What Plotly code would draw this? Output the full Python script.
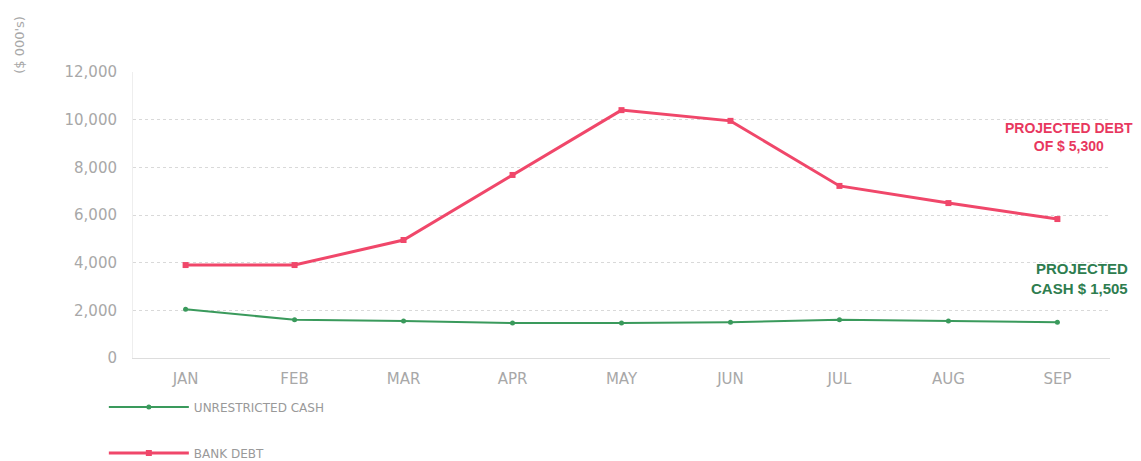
import plotly.graph_objects as go

months = ["JAN", "FEB", "MAR", "APR", "MAY", "JUN", "JUL", "AUG", "SEP"]
bank_debt = [3900, 3900, 4950, 7680, 10400, 9950, 7220, 6500, 5830]
unrestricted_cash = [2050, 1600, 1550, 1470, 1470, 1500, 1600, 1550, 1505]
y_ticks = [0, 2000, 4000, 6000, 8000, 10000, 12000]

DEBT_RED = "#f0476a"
CASH_GREEN = "#3a9a5c"
TICK_GREY = "#a8a8a8"
ANNOT_FONT = "Liberation Sans, Arial, sans-serif"

fig = go.Figure()

fig.add_trace(go.Scatter(
    x=months, y=unrestricted_cash, name="UNRESTRICTED CASH",
    mode="lines+markers", legendgroup="cash",
    line=dict(color=CASH_GREEN, width=2),
    marker=dict(symbol="circle", size=5, color=CASH_GREEN),
))
fig.add_trace(go.Scatter(
    x=months, y=bank_debt, name="BANK DEBT",
    mode="lines+markers", legendgroup="debt",
    line=dict(color=DEBT_RED, width=3),
    marker=dict(symbol="square", size=6, color=DEBT_RED),
))

# callouts on the right
fig.add_annotation(
    text="<b>PROJECTED DEBT<br>OF $ 5,300</b>", xref="paper", yref="y",
    x=0.958, y=9270, xanchor="center", yanchor="middle", showarrow=False,
    align="center", font=dict(color="#e8375e", size=14, family=ANNOT_FONT),
)
fig.add_annotation(
    text="<b>PROJECTED<br>CASH $ 1,505</b>", xref="paper", yref="y",
    x=1.02, y=3350, xanchor="right", yanchor="middle", showarrow=False,
    align="right", font=dict(color="#2e7d4f", size=15, family=ANNOT_FONT),
)
fig.add_annotation(
    text="($ 000's)", xref="paper", yref="paper", x=-0.117, y=1.094,
    textangle=-90, showarrow=False, xanchor="center", yanchor="middle",
    font=dict(color=TICK_GREY, size=13),
)

# the page body adds an 8px offset, so margins are shifted to compensate
fig.update_layout(
    width=1141, height=461,
    margin=dict(l=125, r=39, t=64, b=111, autoexpand=False),
    plot_bgcolor="white", paper_bgcolor="white",
    font=dict(family="DejaVu Sans", color=TICK_GREY, size=12),
    legend=dict(
        orientation="v", xref="container", yref="container",
        x=0.084, y=0.166, xanchor="left", yanchor="top",
        traceorder="grouped", tracegroupgap=27, itemwidth=80,
        font=dict(size=12, color="#999999"),
    ),
    xaxis=dict(
        showgrid=False, showline=True, linecolor="#dddddd", linewidth=1,
        tickfont=dict(size=15, color=TICK_GREY), ticks="",
        ticklabelstandoff=7, automargin=False,
    ),
    yaxis=dict(
        range=[0, 12000], tickvals=y_ticks, tickformat=",",
        showgrid=True, gridcolor="#d9d9d9", griddash="dot", gridwidth=1,
        zeroline=False, showline=True, linecolor="#eeeeee",
        tickfont=dict(size=15, color=TICK_GREY), ticks="",
        ticklabelstandoff=12, automargin=False,
    ),
)

fig.write_html("out.html")
